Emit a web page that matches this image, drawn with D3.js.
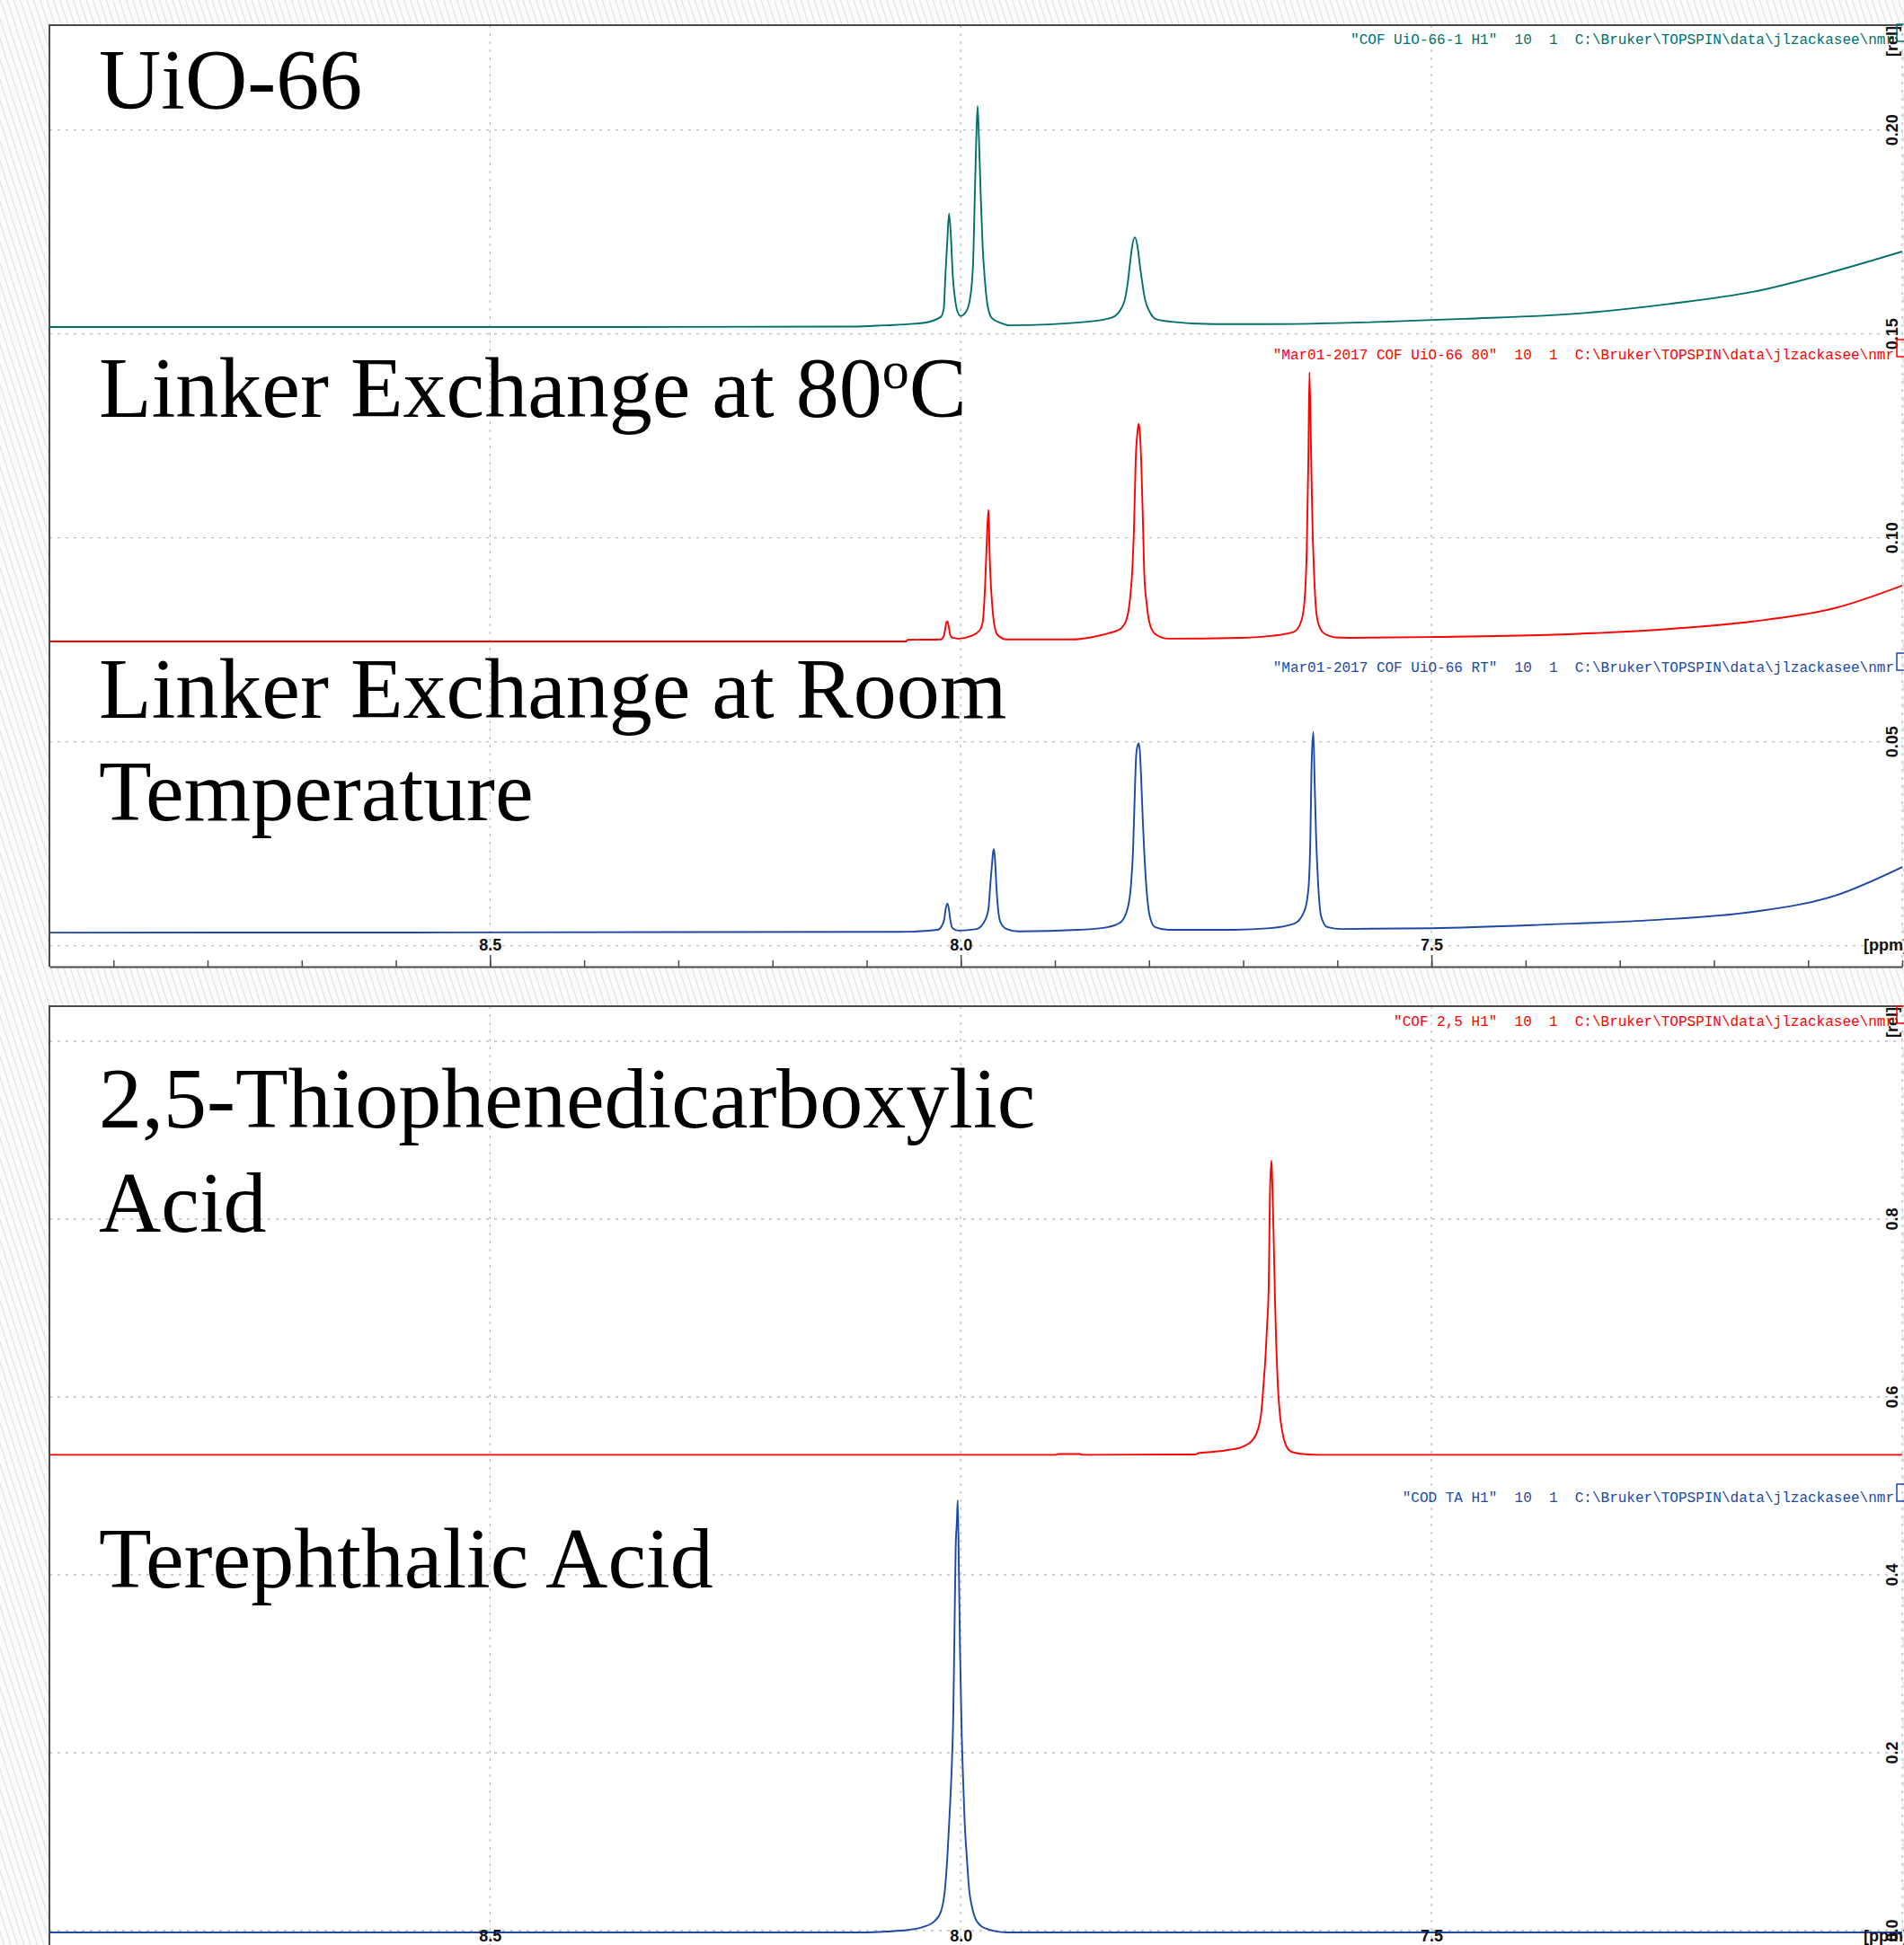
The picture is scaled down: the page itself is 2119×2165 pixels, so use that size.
<!DOCTYPE html>
<html>
<head>
<meta charset="utf-8">
<script src="https://cdn.jsdelivr.net/npm/d3@7"></script>
<style>
  html, body { margin: 0; padding: 0; background: #fff; }
  svg { display: block; }
</style>
</head>
<body>
<svg id="chart" width="2119" height="2165"></svg>
<script>
// ---- data: [ppm, rel] ----
const uio66Points = [
  [8.968,0.1517],[8.352,0.1517],[8.114,0.1518],[8.082,0.1521],[8.040,0.1527],[8.021,0.1542],
  [8.018,0.1563],[8.0162,0.1647],[8.0143,0.1728],[8.0124,0.1795],[8.0102,0.1728],[8.0086,0.1647],
  [8.006,0.1585],[8.0035,0.1555],[8.0,0.1544],[7.9943,0.1555],[7.9902,0.1585],[7.9869,0.1673],
  [7.9854,0.1806],[7.9838,0.1955],[7.9821,0.2059],[7.9806,0.1974],[7.9787,0.1834],[7.9768,0.1717],
  [7.9745,0.1636],[7.972,0.1577],[7.9673,0.154],[7.9577,0.1527],[7.9482,0.1521],[7.8654,0.153],
  [7.8399,0.154],[7.8304,0.1559],[7.8256,0.1585],[7.8224,0.1629],[7.8202,0.1673],[7.8183,0.1709],
  [7.8151,0.1737],[7.8119,0.1709],[7.81,0.1673],[7.8074,0.1629],[7.8043,0.1585],[7.7995,0.1555],
  [7.7922,0.1536],[7.7763,0.153],[7.7317,0.1524],[7.684,0.1524],[7.465,0.1537],[7.334,0.1552],
  [7.246,0.1574],[7.159,0.1603],[7.071,0.1654],[7.0,0.1702]
];
const exchange80Points = [
  [8.968,0.0746],[8.0582,0.0746],[8.0563,0.075],[8.0213,0.0751],[8.0181,0.0759],[8.0165,0.0777],
  [8.015,0.0794],[8.014,0.0795],[8.0127,0.0781],[8.0112,0.0762],[8.0086,0.0755],[8.0022,0.0753],
  [7.9895,0.0759],[7.98,0.0773],[7.9768,0.0792],[7.9742,0.088],[7.9726,0.0975],[7.9714,0.1041],
  [7.9704,0.1069],[7.9695,0.0975],[7.9682,0.0894],[7.9666,0.0836],[7.9647,0.0792],[7.9609,0.0762],
  [7.9513,0.0751],[7.8813,0.0751],[7.8622,0.0756],[7.8432,0.0766],[7.8304,0.0777],[7.8241,0.0799],
  [7.8202,0.085],[7.8177,0.0924],[7.8158,0.1041],[7.8142,0.1188],[7.8122,0.1261],[7.811,0.128],
  [7.8094,0.1247],[7.8081,0.1173],[7.8065,0.1041],[7.805,0.0909],[7.8024,0.0836],[7.7986,0.0784],
  [7.7922,0.0762],[7.7795,0.0753],[7.7031,0.0755],[7.6681,0.076],[7.6458,0.077],[7.6379,0.0799],
  [7.6347,0.085],[7.6325,0.0968],[7.6308,0.1188],[7.6296,0.1406],[7.628,0.1225],[7.6265,0.1041],
  [7.6249,0.0924],[7.623,0.0836],[7.6204,0.0792],[7.6141,0.0766],[7.6013,0.0756],[7.5885,0.0755],
  [7.4959,0.0757],[7.3776,0.0762],[7.2458,0.0777],[7.159,0.0795],[7.0711,0.0828],[7.0,0.0883]
];
const exchangeRTPoints = [
  [8.968,0.0032],[8.0659,0.0034],[8.0245,0.0039],[8.0198,0.005],[8.0175,0.0065],[8.016,0.009],
  [8.014,0.01035],[8.0124,0.0087],[8.0112,0.0065],[8.0086,0.0043],[8.0022,0.0037],[7.9831,0.0041],
  [7.9736,0.0065],[7.9704,0.0094],[7.9685,0.0153],[7.9669,0.0197],[7.9656,0.023],[7.9647,0.0237],
  [7.9634,0.0204],[7.9621,0.0145],[7.9602,0.0087],[7.9577,0.0057],[7.9513,0.0041],[7.9386,0.0035],
  [7.8749,0.0039],[7.8432,0.0046],[7.8304,0.0057],[7.8225,0.0094],[7.8193,0.0145],[7.817,0.0233],
  [7.8155,0.0344],[7.8136,0.0469],[7.8122,0.0491],[7.811,0.0496],[7.8097,0.0476],[7.8084,0.0413],
  [7.8065,0.03],[7.805,0.0226],[7.8024,0.0131],[7.7992,0.0072],[7.7938,0.0046],[7.7795,0.0039],
  [7.7095,0.0039],[7.6713,0.0043],[7.6458,0.0054],[7.6347,0.0087],[7.6305,0.0145],[7.6286,0.027],
  [7.6274,0.0439],[7.6255,0.0524],[7.6241,0.0402],[7.6226,0.027],[7.6204,0.0153],[7.6172,0.0072],
  [7.6108,0.0046],[7.5949,0.0041],[7.5,0.0043],[7.3776,0.0052],[7.264,0.0063],[7.159,0.0083],
  [7.0711,0.0123],[7.0,0.0193]
];
const thiopheneAcidPoints = [
  [8.968,0.535],[7.8988,0.535],[7.8969,0.5359],[7.873,0.5359],[7.8711,0.535],[7.7508,0.5354],
  [7.748,0.5367],[7.7317,0.5384],[7.7158,0.5404],[7.6999,0.5444],[7.6904,0.5512],[7.684,0.5646],
  [7.6809,0.5815],[7.6783,0.6152],[7.6761,0.6488],[7.6745,0.6825],[7.6728,0.7296],[7.6716,0.8273],
  [7.67,0.866],[7.669,0.8374],[7.6675,0.7734],[7.6662,0.7094],[7.6649,0.6589],[7.6633,0.6152],
  [7.6611,0.5815],[7.6585,0.5613],[7.6554,0.5478],[7.649,0.5384],[7.6394,0.5361],[7.6203,0.535],
  [7.0,0.535]
];
const terephthalicAcidPoints = [
  [8.968,-0.002],[8.1041,-0.002],[8.0786,-0.001],[8.0563,0.0007],[8.0404,0.004],[8.0277,0.0108],
  [8.0207,0.0225],[8.0165,0.0495],[8.014,0.0866],[8.0117,0.1336],[8.0098,0.1775],[8.0079,0.2447],
  [8.0067,0.3323],[8.0054,0.43],[8.0041,0.4603],[8.0032,0.4838],[8.0019,0.3997],[8.0007,0.3121],
  [7.999,0.2212],[7.9974,0.1674],[7.9959,0.1235],[7.9936,0.0831],[7.9911,0.0462],[7.9879,0.026],
  [7.9831,0.0108],[7.9736,0.0023],[7.9513,-0.002],[7.0,-0.002]
];

const ppmLabels = [8.5, 8.0, 7.5];
const ppmGrid = [8.5, 8.0, 7.5, 7.0];
const topRelTicks = [0.05, 0.10, 0.15, 0.20];
const topRelGrid = [0, 0.05, 0.10, 0.15, 0.20];
const bottomRelTicks = [0.0, 0.2, 0.4, 0.6, 0.8];
const bottomRelGrid = [0, 0.2, 0.4, 0.6, 0.8, 1.0];

const topHeaders = [
  '"COF UiO-66-1 H1"  10  1  C:\\Bruker\\TOPSPIN\\data\\jlzackasee\\nmr',
  '"Mar01-2017 COF UiO-66 80"  10  1  C:\\Bruker\\TOPSPIN\\data\\jlzackasee\\nmr',
  '"Mar01-2017 COF UiO-66 RT"  10  1  C:\\Bruker\\TOPSPIN\\data\\jlzackasee\\nmr'
];
const bottomHeaders = [
  '"COF 2,5 H1"  10  1  C:\\Bruker\\TOPSPIN\\data\\jlzackasee\\nmr',
  '"COD TA H1"  10  1  C:\\Bruker\\TOPSPIN\\data\\jlzackasee\\nmr'
];
const topTitles = [
  [{t: "UiO-66"}],
  [{t: "Linker Exchange at 80"}, {t: "o", sup: true}, {t: "C"}],
  [{t: "Linker Exchange at Room"}],
  [{t: "Temperature"}]
];
const bottomTitles = [
  [{t: "2,5-Thiophenedicarboxylic"}],
  [{t: "Acid"}],
  [{t: "Terephthalic Acid"}]
];

// ---- layout ----
const W = 2119, H = 2165;
const X_LEFT = 55, X_RIGHT = 2117;
const TEAL = "#00706b", RED = "#ff0000", BLUE = "#1c48a8";

const svg = d3.select("#chart");
const defs = svg.append("defs");

const hatch = defs.append("pattern")
  .attr("id", "hatch")
  .attr("patternUnits", "userSpaceOnUse")
  .attr("width", 7).attr("height", 7)
  .attr("patternTransform", "rotate(-18)");
hatch.append("rect").attr("width", 7).attr("height", 7).attr("fill", "#fbfbfb");
hatch.append("line")
  .attr("x1", 0.5).attr("y1", 0).attr("x2", 0.5).attr("y2", 7)
  .attr("stroke", "#dedede").attr("stroke-width", 1.1);

svg.append("rect").attr("width", W).attr("height", H).attr("fill", "url(#hatch)");

const x = d3.scaleLinear().domain([8.968, 7.0]).range([X_LEFT, X_RIGHT]);

function drawPanel(p, idx) {
  const g = svg.append("g");
  const y = p.y;

  g.append("rect")
    .attr("x", X_LEFT).attr("y", p.top)
    .attr("width", X_RIGHT - X_LEFT).attr("height", p.bottom - p.top)
    .attr("fill", "#fff");

  defs.append("clipPath").attr("id", "clip" + idx)
    .append("rect")
    .attr("x", X_LEFT).attr("y", p.top)
    .attr("width", X_RIGHT - X_LEFT).attr("height", p.bottom - p.top);

  // dotted grid
  const grid = g.append("g")
    .attr("stroke", "#bdbdbd").attr("stroke-width", 1.3)
    .attr("stroke-dasharray", "3,6");
  grid.selectAll(".gy").data(p.gridY).enter().append("line")
    .attr("x1", X_LEFT).attr("x2", X_RIGHT)
    .attr("y1", d => y(d)).attr("y2", d => y(d));
  grid.selectAll(".gx").data(ppmGrid).enter().append("line")
    .attr("x1", d => x(d)).attr("x2", d => x(d))
    .attr("y1", p.top).attr("y2", p.bottom);

  // spectra
  const line = d3.line()
    .x(d => x(d[0]))
    .y(d => y(d[1]))
    .curve(d3.curveMonotoneX);
  const specG = g.append("g").attr("clip-path", "url(#clip" + idx + ")");
  p.spectra.forEach(s => {
    specG.append("path")
      .attr("d", line(s.points))
      .attr("fill", "none")
      .attr("stroke", s.color)
      .attr("stroke-width", 1.9)
      .attr("stroke-linejoin", "round");
  });

  // frame: top and left solid
  g.append("path")
    .attr("d", `M${X_RIGHT},${p.top}H${X_LEFT}V${p.bottom}`)
    .attr("fill", "none").attr("stroke", "#4a4a4a").attr("stroke-width", 2);

  // ppm axis along the bottom, ticks pointing inward
  const minorAxis = d3.axisTop(x).ticks(20).tickSize(7).tickSizeOuter(0).tickFormat("");
  const ax1 = g.append("g").attr("transform", `translate(0,${p.bottom})`).call(minorAxis);
  ax1.select(".domain").attr("stroke", "#4a4a4a").attr("stroke-width", 2);
  ax1.selectAll(".tick line").attr("stroke", "#4a4a4a").attr("stroke-width", 1.5);

  const majorAxis = d3.axisTop(x).tickValues(ppmLabels).tickSize(13).tickSizeOuter(0)
    .tickPadding(5).tickFormat(d3.format(".1f"));
  const ax2 = g.append("g").attr("transform", `translate(0,${p.bottom})`).call(majorAxis);
  ax2.select(".domain").remove();
  ax2.selectAll(".tick line").attr("stroke", "#4a4a4a").attr("stroke-width", 1.5);
  ax2.selectAll(".tick text")
    .attr("font-family", "Liberation Sans, Arial, sans-serif")
    .attr("font-weight", "bold").attr("font-size", 18).attr("fill", "#111");

  g.append("text")
    .attr("x", 2074).attr("y", p.bottom - 18)
    .attr("font-family", "Liberation Sans, Arial, sans-serif")
    .attr("font-weight", "bold").attr("font-size", 18).attr("fill", "#111")
    .text("[ppm]");

  // rotated intensity labels on the right
  const fmt = d3.format(p.fmt);
  g.selectAll(".ylab").data(p.yTicks).enter().append("text")
    .attr("transform", d => `translate(2112,${y(d)}) rotate(-90)`)
    .attr("text-anchor", "middle")
    .attr("font-family", "Liberation Sans, Arial, sans-serif")
    .attr("font-weight", "bold").attr("font-size", 18).attr("fill", "#111")
    .text(d => fmt(d));
  g.append("text")
    .attr("transform", `translate(2112,${p.top + 18}) rotate(-90)`)
    .attr("text-anchor", "middle")
    .attr("font-family", "Liberation Sans, Arial, sans-serif")
    .attr("font-weight", "bold").attr("font-size", 18).attr("fill", "#111")
    .text("[rel]");

  // dataset headers and their small markers
  p.headers.forEach(h => {
    g.append("text")
      .attr("x", 2108).attr("y", h.y)
      .attr("text-anchor", "end")
      .style("white-space", "pre")
      .attr("font-family", "Liberation Mono, Courier New, monospace")
      .attr("font-size", 16).attr("fill", h.color)
      .text(h.text);
    g.append("rect")
      .attr("x", 2111).attr("y", h.box).attr("width", 20).attr("height", 19)
      .attr("fill", "none").attr("stroke", h.color).attr("stroke-width", 1.5);
  });

  // titles
  p.titles.forEach((segs, i) => {
    const t = g.append("text")
      .attr("x", 110).attr("y", p.titleY[i])
      .attr("font-family", "Liberation Serif, Times New Roman, serif")
      .attr("font-size", 96).attr("fill", "#000");
    let raised = false;
    segs.forEach(s => {
      const ts = t.append("tspan").text(s.t);
      if (s.sup) { ts.attr("font-size", 60).attr("dy", -32); raised = true; }
      else if (raised) { ts.attr("dy", 32); raised = false; }
    });
  });
}

drawPanel({
  top: 28, bottom: 1076,
  y: d3.scaleLinear().domain([0, 0.05]).range([1052.7, 825.7]),
  gridY: topRelGrid, yTicks: topRelTicks, fmt: ".2f",
  spectra: [
    {points: uio66Points, color: TEAL},
    {points: exchange80Points, color: RED},
    {points: exchangeRTPoints, color: BLUE}
  ],
  headers: [
    {text: topHeaders[0], color: TEAL, y: 49, box: 27},
    {text: topHeaders[1], color: RED, y: 400, box: 378},
    {text: topHeaders[2], color: BLUE, y: 748, box: 727}
  ],
  titles: topTitles, titleY: [121, 464, 799, 913]
}, 0);

drawPanel({
  top: 1120, bottom: 2179,
  y: d3.scaleLinear().domain([0, 0.2]).range([2149, 1951]),
  gridY: bottomRelGrid, yTicks: bottomRelTicks, fmt: ".1f",
  spectra: [
    {points: thiopheneAcidPoints, color: RED},
    {points: terephthalicAcidPoints, color: BLUE}
  ],
  headers: [
    {text: bottomHeaders[0], color: RED, y: 1142, box: 1120},
    {text: bottomHeaders[1], color: BLUE, y: 1672, box: 1652}
  ],
  titles: bottomTitles, titleY: [1255, 1371, 1767]
}, 1);
</script>
</body>
</html>
